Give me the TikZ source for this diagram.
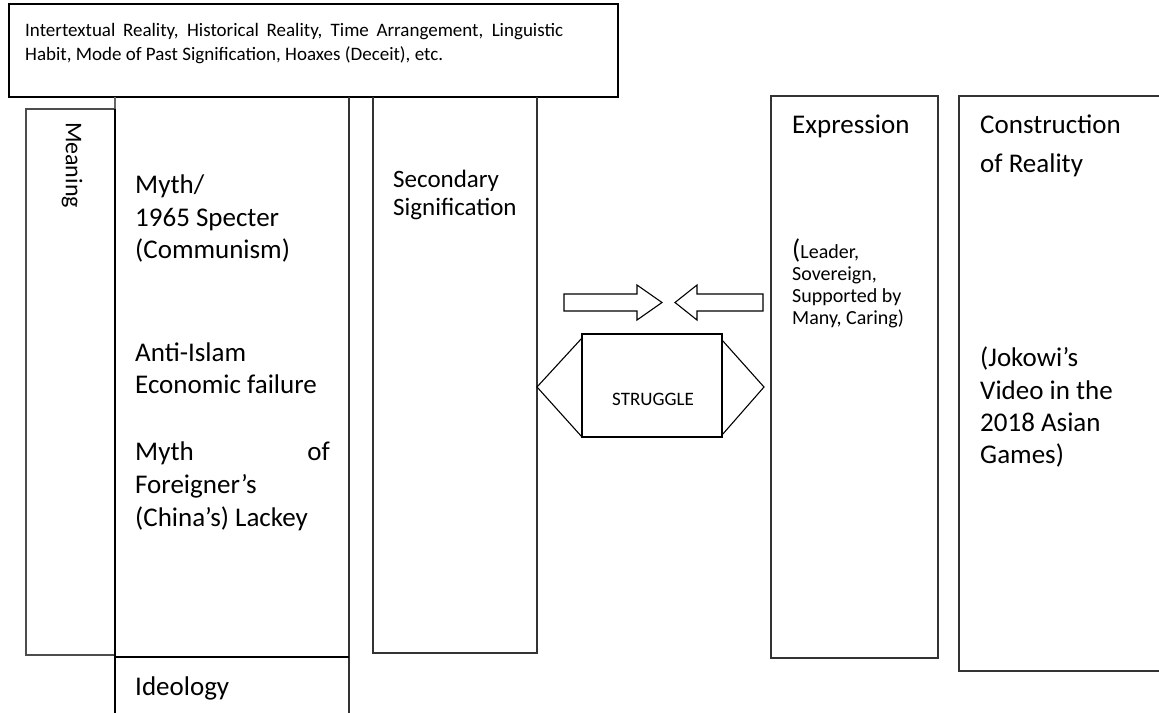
\documentclass[tikz,border=0pt]{standalone}
\usepackage{fontspec}
\setmainfont{Carlito}
\begin{document}
\begin{tikzpicture}[x=1pt,y=-1pt,
  boxline/.style={draw=black!80, line width=1.4pt},
  heavyline/.style={draw=black, line width=2.6pt},
  arrowshape/.style={draw=black, line width=1.1pt, line join=miter, fill=white},
  txt/.style={anchor=base west, inner sep=0pt, font=\fontsize{27}{32}\selectfont},
  toptxt/.style={anchor=base west, inner sep=0pt, font=\fontsize{19}{23}\selectfont},
  sectxt/.style={anchor=base west, inner sep=0pt, font=\fontsize{25}{28}\selectfont},
  smalltxt/.style={anchor=base west, inner sep=0pt, font=\fontsize{20}{22}\selectfont}]
\useasboundingbox (0,0) rectangle (1159,712);
\clip (0,0) rectangle (1159,712);
% top box
\draw[boxline, draw=black] (9,4) rectangle (618,97);
% myth box and meaning box
\draw[boxline, draw=black!60] (115,97) -- (115,109);
\draw[boxline] (349,97) -- (349,720);
\draw[boxline, draw=black!70] (115,109) -- (26,109) -- (26,655) -- (115,655);
\draw[heavyline] (115,109) -- (115,657);
% ideology box
\draw[boxline, draw=black] (115,720) -- (115,657) -- (349,657);
% secondary box
\draw[boxline] (373,97) -- (373,653) -- (537,653) -- (537,97);
% expression box
\draw[boxline] (771,96) rectangle (938,658);
% construction box
\draw[boxline] (1170,96) -- (959,96) -- (959,671) -- (1170,671);
% block arrows
\draw[arrowshape] (564,294) -- (637,294) -- (637,285) -- (662,302.5) -- (637,320) -- (637,311) -- (564,311) -- cycle;
\draw[arrowshape] (763,294) -- (697,294) -- (697,285) -- (675,302.5) -- (697,320) -- (697,311) -- (763,311) -- cycle;
% struggle
\draw[arrowshape] (582,338) -- (537,387) -- (582,437);
\draw[arrowshape] (722,340) -- (764,387) -- (722,435);
\node[draw=black, line width=1.2pt, minimum width=140pt, minimum height=103pt, inner sep=0pt] (struggle) at (652,385.5) {};
\node[anchor=base, inner sep=0pt, font=\fontsize{19}{22}\selectfont] (strugglet) at (653,405) {STRUGGLE};
% texts
\node[toptxt] (t1) at (25,36) {\makebox[538pt][s]{Intertextual Reality, Historical Reality, Time Arrangement, Linguistic}};
\node[toptxt] (t2) at (25,60) {Habit, Mode of Past Signification, Hoaxes (Deceit), etc.};
\node[rotate=-90, inner sep=0pt, font=\fontsize{24}{28}\selectfont] (meaning) at (72,165) {Meaning};
\node[txt] (m1) at (135,193) {Myth/};
\node[txt] (m2) at (135,226) {1965 Specter};
\node[txt] (m3) at (135,258) {(Communism)};
\node[txt] (m4) at (135,361) {Anti-Islam};
\node[txt] (m5) at (135,393) {Economic failure};
\node[txt] (m6) at (135,460) {Myth};
\node[anchor=base east, inner sep=0pt, font=\fontsize{27}{32}\selectfont] (m6b) at (330,460) {of};
\node[txt] (m7) at (135,493) {Foreigner’s};
\node[txt] (m8) at (135,526) {(China’s) Lackey};
\node[txt] (ideo) at (135,695) {Ideology};
\node[sectxt] (s1) at (393,187) {Secondary};
\node[sectxt] (s2) at (393,215) {Signification};
\node[txt] (e1) at (792,133) {Expression};
\node[smalltxt] (l1) at (792,258) {{\fontsize{27}{32}\selectfont(}Leader,};
\node[smalltxt] (l2) at (792,280) {Sovereign,};
\node[smalltxt] (l3) at (792,302) {Supported by};
\node[smalltxt] (l4) at (792,324) {Many, Caring)};
\node[txt] (c1) at (980,133) {Construction};
\node[txt] (c2) at (980,172) {of Reality};
\node[txt] (j1) at (980,366) {(Jokowi’s};
\node[txt] (j2) at (980,399) {Video in the};
\node[txt] (j3) at (980,431) {2018 Asian};
\node[txt] (j4) at (980,463) {Games)};
\end{tikzpicture}
\end{document}
